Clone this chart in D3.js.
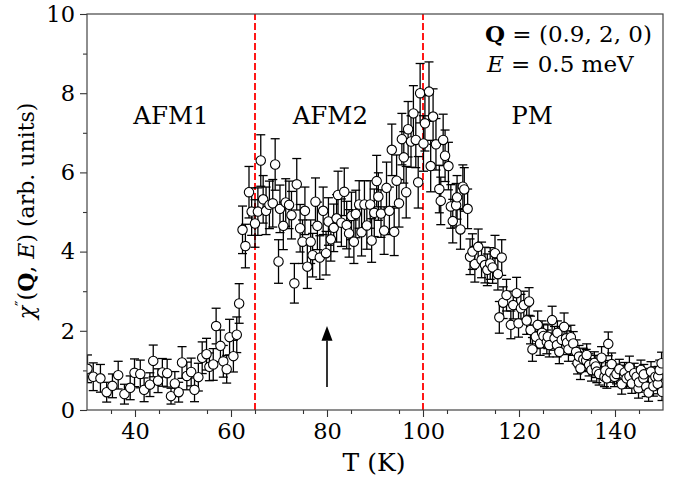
<!DOCTYPE html>
<html>
<head>
<meta charset="utf-8">
<script src="https://cdn.jsdelivr.net/npm/d3@7"></script>
<style>
  body { margin: 0; background: #fff; }
  svg text { font-family: "DejaVu Serif", serif; fill: #000; }
</style>
</head>
<body>
<div class="chart"></div>
<script>
// [T (K), chi'' (arb. units), error]
const afm1Data = [
  [30.1, 1.04, 0.35], [31.3, 0.84, 0.35], [32.8, 0.80, 0.35], [34.1, 0.45, 0.25],
  [35.3, 0.61, 0.30], [36.5, 0.88, 0.35], [37.8, 0.40, 0.25], [39.0, 0.56, 0.30],
  [39.9, 0.94, 0.35], [41.1, 0.91, 0.35], [41.9, 0.51, 0.30], [43.1, 0.64, 0.30],
  [43.8, 1.24, 0.40], [44.8, 0.74, 0.30], [45.7, 0.95, 0.35], [46.7, 0.93, 0.35],
  [47.5, 0.35, 0.20], [48.3, 0.67, 0.30], [49.1, 0.45, 0.25], [49.8, 1.20, 0.40],
  [50.8, 0.86, 0.35], [51.7, 0.96, 0.35], [52.4, 0.51, 0.30], [53.2, 0.83, 0.35],
  [54.0, 1.32, 0.40], [54.9, 1.41, 0.40], [55.5, 1.09, 0.35], [56.3, 1.15, 0.40],
  [56.9, 2.12, 0.45], [57.8, 1.62, 0.40], [58.4, 1.23, 0.40], [59.1, 1.03, 0.35],
  [59.7, 1.84, 0.45], [60.5, 1.36, 0.40], [61.2, 1.90, 0.45], [61.7, 2.69, 0.50],
  [62.4, 4.55, 0.60], [63.0, 4.14, 0.55], [63.75, 5.50, 0.65], [64.3, 5.01, 0.60]
];

const afm2Data = [
  [65.0, 4.71, 0.60], [65.6, 5.01, 0.60], [66.2, 6.30, 0.65], [66.7, 5.32, 0.60],
  [67.3, 5.03, 0.60], [68.0, 5.18, 0.60], [68.7, 5.22, 0.60], [69.2, 6.20, 0.65],
  [69.9, 3.75, 0.55], [70.2, 5.08, 0.60], [70.9, 4.65, 0.60], [71.4, 5.24, 0.60],
  [72.1, 5.18, 0.60], [72.6, 4.92, 0.60], [73.2, 3.20, 0.50], [73.7, 5.70, 0.65],
  [74.4, 4.59, 0.60], [74.9, 4.25, 0.55], [75.4, 5.03, 0.60], [75.9, 3.62, 0.55],
  [76.6, 4.25, 0.55], [77.0, 3.91, 0.55], [77.6, 5.26, 0.60], [78.0, 4.65, 0.60],
  [78.5, 3.85, 0.55], [79.2, 5.03, 0.60], [79.8, 3.96, 0.55], [80.3, 4.76, 0.60],
  [80.8, 4.31, 0.55], [81.4, 4.60, 0.60], [82.0, 4.84, 0.60], [82.3, 5.43, 0.60],
  [83.0, 4.73, 0.60], [83.6, 5.51, 0.60], [84.1, 4.67, 0.60], [84.6, 4.46, 0.60],
  [85.1, 4.90, 0.60], [85.6, 4.25, 0.55], [86.0, 4.95, 0.60], [86.7, 5.19, 0.60],
  [87.2, 4.49, 0.60], [87.8, 5.19, 0.60], [88.3, 4.66, 0.60], [89.0, 5.19, 0.60],
  [89.3, 4.28, 0.55], [89.85, 4.98, 0.60], [90.35, 5.78, 0.65], [90.7, 5.39, 0.60],
  [91.25, 4.96, 0.60], [91.9, 4.53, 0.60], [92.4, 5.61, 0.65], [93.0, 5.03, 0.60],
  [93.5, 6.57, 0.65], [94.0, 4.50, 0.60], [94.5, 5.79, 0.65], [95.0, 5.22, 0.60],
  [95.6, 6.84, 0.65], [96.0, 6.38, 0.65], [96.5, 5.50, 0.65], [96.9, 7.09, 0.70],
  [97.5, 6.78, 0.65], [98.0, 7.49, 0.70], [98.5, 6.82, 0.70], [99.0, 5.75, 0.65],
  [99.4, 8.00, 0.75]
];

const pmData = [
  [100.1, 6.73, 0.70], [100.4, 7.24, 0.70], [101.25, 8.04, 0.75], [101.6, 6.16, 0.65],
  [102.1, 7.41, 0.70], [102.7, 6.71, 0.65], [103.4, 5.58, 0.60], [103.7, 5.28, 0.60],
  [104.2, 6.82, 0.65], [104.6, 6.42, 0.65], [105.3, 6.16, 0.60], [105.8, 5.14, 0.55],
  [106.2, 4.77, 0.55], [106.9, 5.17, 0.55], [107.1, 5.37, 0.55], [107.8, 4.56, 0.50],
  [108.3, 5.64, 0.55], [108.6, 5.57, 0.55], [109.3, 5.08, 0.50], [109.8, 3.87, 0.45],
  [110.3, 4.00, 0.45], [110.8, 3.68, 0.45], [111.5, 4.12, 0.45], [112.2, 3.79, 0.45],
  [112.9, 3.66, 0.45], [113.4, 3.54, 0.40], [114.0, 3.70, 0.40], [114.5, 3.60, 0.40],
  [115.0, 3.96, 0.45], [115.6, 3.43, 0.40], [115.9, 2.34, 0.40], [116.4, 3.85, 0.45],
  [116.7, 2.71, 0.40], [117.4, 2.90, 0.40], [118.3, 2.15, 0.35], [118.8, 2.65, 0.35],
  [119.5, 2.95, 0.40], [119.9, 2.19, 0.35], [120.4, 2.57, 0.35], [121.0, 2.65, 0.35],
  [121.6, 2.26, 0.35], [122.1, 2.74, 0.35], [122.4, 2.02, 0.35], [122.8, 1.53, 0.30],
  [123.5, 1.85, 0.30], [123.9, 2.15, 0.35], [124.4, 1.68, 0.30], [124.8, 1.95, 0.30],
  [125.1, 1.87, 0.30], [125.8, 1.72, 0.30], [126.0, 1.85, 0.30], [126.3, 1.64, 0.30],
  [126.9, 2.27, 0.35], [127.4, 1.81, 0.30], [127.9, 1.64, 0.30], [128.0, 1.95, 0.30],
  [128.4, 1.47, 0.30], [128.9, 1.77, 0.30], [129.4, 2.10, 0.35], [129.8, 1.81, 0.30],
  [130.0, 1.70, 0.30], [130.3, 1.53, 0.30], [130.8, 1.84, 0.30], [131.3, 1.68, 0.30],
  [131.9, 1.47, 0.30], [132.2, 1.19, 0.28], [132.5, 1.35, 0.28], [132.8, 1.05, 0.28],
  [133.4, 1.28, 0.28], [134.0, 1.25, 0.28], [134.1, 1.39, 0.28], [134.6, 1.14, 0.28],
  [135.1, 1.01, 0.28], [135.7, 1.19, 0.28], [136.0, 1.10, 0.28], [136.2, 0.97, 0.28],
  [136.7, 0.91, 0.28], [137.2, 1.32, 0.28], [137.8, 0.84, 0.25], [138.0, 1.00, 0.25],
  [138.3, 0.80, 0.25], [138.6, 1.67, 0.30], [139.0, 0.95, 0.25], [139.3, 1.16, 0.28],
  [139.9, 0.84, 0.25], [140.3, 0.91, 0.25], [140.9, 1.03, 0.25], [141.4, 0.65, 0.25],
  [141.9, 0.88, 0.25], [142.0, 0.95, 0.25], [142.4, 0.80, 0.25], [143.0, 1.08, 0.28],
  [143.0, 0.85, 0.25], [143.5, 0.67, 0.25], [144.0, 0.93, 0.25], [144.5, 0.84, 0.25],
  [144.9, 0.55, 0.25], [145.0, 0.70, 0.25], [145.4, 1.01, 0.25], [145.9, 0.80, 0.25],
  [146.0, 0.90, 0.25], [146.5, 0.59, 0.25], [147.0, 0.44, 0.22], [147.5, 0.97, 0.25],
  [147.9, 0.76, 0.25], [148.0, 0.60, 0.25], [148.4, 0.84, 0.25], [148.9, 0.66, 0.25],
  [149.0, 0.85, 0.25], [149.3, 1.01, 0.25], [149.7, 1.18, 0.28], [149.8, 0.46, 0.22]
];

const xTicks = [40, 60, 80, 100, 120, 140];
const yTicks = [0, 2, 4, 6, 8, 10];
const transitions = [65, 100];
const phaseLabels = [["AFM1", 47.5], ["AFM2", 80.7], ["PM", 122.7]];

const w = 684;
const h = 477;
const margin = {left: 87, right: 21, top: 14, bottom: 67};

const xScale = d3.scaleLinear().domain([30, 150]).range([margin.left, w - margin.right]);
const yScale = d3.scaleLinear().domain([0, 10]).range([h - margin.bottom, margin.top]);

const svg = d3.select(".chart")
  .append("svg")
  .attr("width", w)
  .attr("height", h);

const dataset = afm1Data.concat(afm2Data, pmData);

const plot = svg.append("g");
svg.append("clipPath").attr("id", "clip")
  .append("rect")
  .attr("x", margin.left).attr("y", margin.top)
  .attr("width", w - margin.left - margin.right)
  .attr("height", h - margin.top - margin.bottom);
plot.attr("clip-path", "url(#clip)");

// dashed transition lines
plot.selectAll(".trans")
  .data(transitions)
  .enter()
  .append("line")
  .attr("x1", (d) => xScale(d)).attr("x2", (d) => xScale(d))
  .attr("y1", yScale(0)).attr("y2", yScale(10))
  .attr("stroke", "#ff0000")
  .attr("stroke-width", 1.8)
  .attr("stroke-dasharray", "7,3");

// error bars
const capW = 4.5;
const eb = plot.selectAll(".eb")
  .data(dataset)
  .enter()
  .append("g")
  .attr("stroke", "#000")
  .attr("stroke-width", 1.3);
eb.append("line")
  .attr("x1", (d) => xScale(d[0])).attr("x2", (d) => xScale(d[0]))
  .attr("y1", (d) => yScale(d[1] - d[2])).attr("y2", (d) => yScale(d[1] + d[2]));
eb.append("line")
  .attr("x1", (d) => xScale(d[0]) - capW).attr("x2", (d) => xScale(d[0]) + capW)
  .attr("y1", (d) => yScale(d[1] + d[2])).attr("y2", (d) => yScale(d[1] + d[2]));
eb.append("line")
  .attr("x1", (d) => xScale(d[0]) - capW).attr("x2", (d) => xScale(d[0]) + capW)
  .attr("y1", (d) => yScale(d[1] - d[2])).attr("y2", (d) => yScale(d[1] - d[2]));

// markers
plot.selectAll("circle")
  .data(dataset)
  .enter()
  .append("circle")
  .attr("cx", (d) => xScale(d[0]))
  .attr("cy", (d) => yScale(d[1]))
  .attr("r", 4.7)
  .attr("fill", "#fff")
  .attr("stroke", "#000")
  .attr("stroke-width", 1.1);

// arrow at 80 K
svg.append("line")
  .attr("x1", xScale(80)).attr("x2", xScale(80))
  .attr("y1", yScale(0.58)).attr("y2", yScale(1.75))
  .attr("stroke", "#000").attr("stroke-width", 1.6);
svg.append("path")
  .attr("d", `M${xScale(80)},${yScale(2.12)} L${xScale(80) - 5.5},${yScale(1.75)} L${xScale(80) + 5.5},${yScale(1.75)} Z`)
  .attr("fill", "#000");

// axes
const xAxis = d3.axisBottom(xScale).tickValues(xTicks).tickSize(7).tickPadding(6).tickFormat(d3.format("d"));
const yAxis = d3.axisLeft(yScale).tickValues(yTicks).tickSize(7).tickPadding(5).tickFormat(d3.format("d"));
const xMinor = d3.axisBottom(xScale).tickValues(d3.range(35, 150, 10)).tickSize(4).tickFormat("");
const yMinor = d3.axisLeft(yScale).tickValues(d3.range(1, 10, 2)).tickSize(4).tickFormat("");

svg.append("g").attr("transform", `translate(0,${yScale(0)})`).call(xAxis);
svg.append("g").attr("transform", `translate(0,${yScale(0)})`).call(xMinor);
svg.append("g").attr("transform", `translate(${margin.left},0)`).call(yAxis);
svg.append("g").attr("transform", `translate(${margin.left},0)`).call(yMinor);
svg.selectAll(".domain").remove();
svg.selectAll(".tick line").attr("stroke", "#333").attr("stroke-width", 1.1);
svg.selectAll(".tick text").style("font-family", "DejaVu Serif").style("font-size", "22.5px").attr("fill", "#000");

// frame
svg.append("rect")
  .attr("x", margin.left).attr("y", margin.top)
  .attr("width", w - margin.left - margin.right)
  .attr("height", h - margin.top - margin.bottom)
  .attr("fill", "none")
  .attr("stroke", "#444")
  .attr("stroke-width", 1.2);

// phase labels
svg.selectAll(".phase")
  .data(phaseLabels)
  .enter()
  .append("text")
  .attr("x", (d) => xScale(d[1]))
  .attr("y", 124)
  .attr("text-anchor", "middle")
  .style("font-size", "24.5px")
  .text((d) => d[0]);

// annotation
const ann1 = svg.append("text").attr("x", 485).attr("y", 42).style("font-size", "23px");
ann1.append("tspan").attr("font-weight", "bold").text("Q");
ann1.append("tspan").text(" = (0.9, 2, 0)");
const ann2 = svg.append("text").attr("x", 487).attr("y", 72).style("font-size", "23px");
ann2.append("tspan").attr("font-style", "italic").text("E");
ann2.append("tspan").text(" = 0.5 meV");

// axis titles
svg.append("text")
  .attr("x", 374).attr("y", 471)
  .attr("text-anchor", "middle")
  .style("font-size", "25px")
  .text("T (K)");

const yl = svg.append("text")
  .attr("text-anchor", "middle")
  .attr("transform", "translate(34,211)rotate(-90)")
  .style("font-size", "22px");
yl.append("tspan").attr("font-style", "italic").text("χ");
yl.append("tspan").attr("dy", -8).style("font-size", "15px").text("″");
yl.append("tspan").attr("dy", 8).text("(");
yl.append("tspan").attr("font-weight", "bold").text("Q");
yl.append("tspan").text(", ");
yl.append("tspan").attr("font-style", "italic").text("E");
yl.append("tspan").text(") (arb. units)");
</script>
</body>
</html>
